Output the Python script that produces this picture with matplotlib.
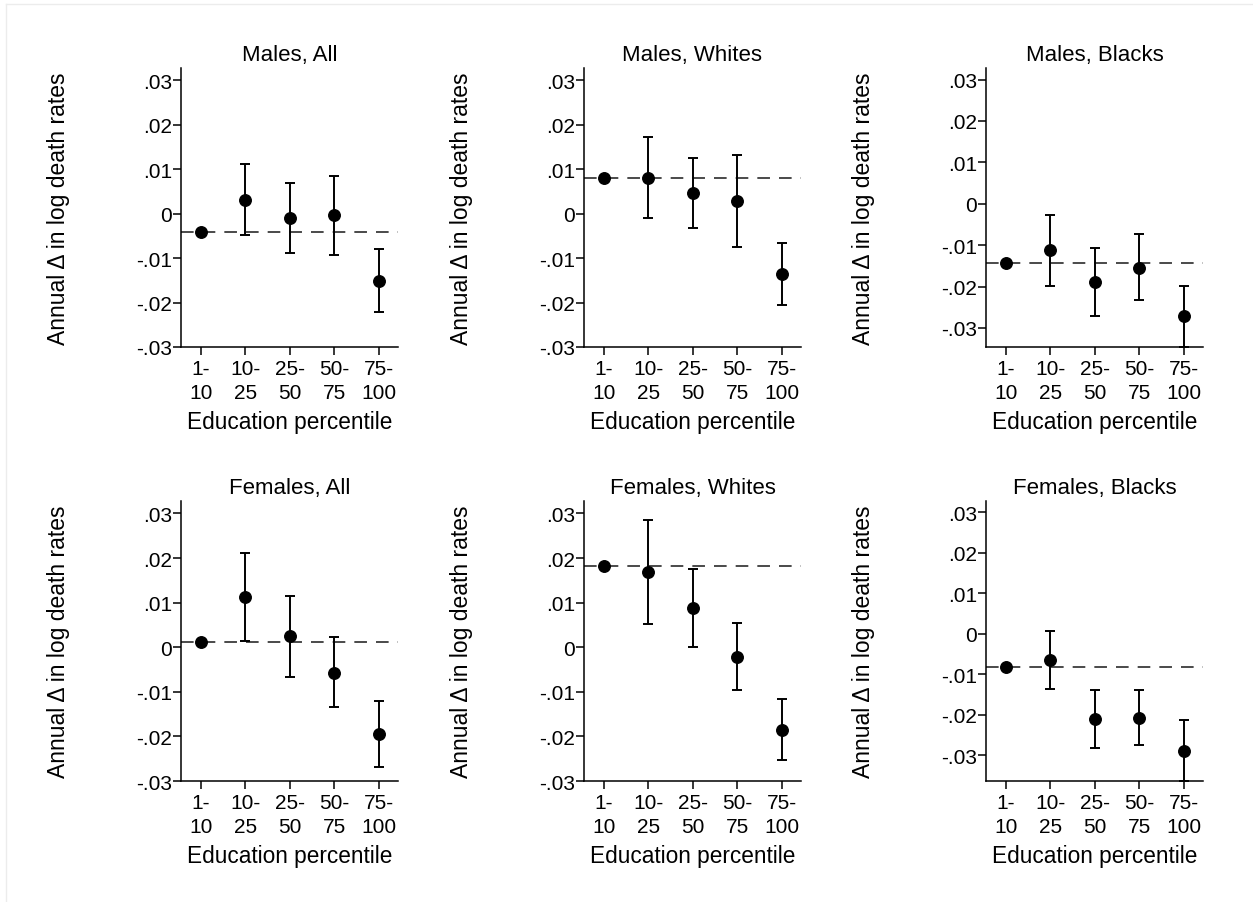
import matplotlib
matplotlib.use("Agg")
import matplotlib.pyplot as plt
from matplotlib.lines import Line2D
import numpy as np

plt.rcParams['font.family'] = ['Liberation Sans', 'DejaVu Sans']

# ---------- DATOS ----------
grupos = ["1-\n10", "10-\n25", "25-\n50", "50-\n75", "75-\n100"]
titulos = ["Males, All", "Males, Whites", "Males, Blacks",
           "Females, All", "Females, Whites", "Females, Blacks"]

# estimaciones puntuales por grupo de educacion
males_all = [-0.0042, 0.0031, -0.0010, -0.0004, -0.0151]
males_whites = [0.0081, 0.0081, 0.0046, 0.0028, -0.0135]
males_blacks = [-0.01425, -0.0112, -0.0189, -0.0154, -0.0271]
females_all = [0.0011, 0.0112, 0.0025, -0.0058, -0.0195]
females_whites = [0.01825, 0.0168, 0.0088, -0.0022, -0.0185]
females_blacks = [-0.0083, -0.0066, -0.0211, -0.0208, -0.0289]

# intervalos de confianza (inferior, superior); el grupo base no tiene
males_all_lo = [np.nan, -0.0049, -0.0088, -0.0094, -0.0221]
males_all_hi = [np.nan, 0.0112, 0.0069, 0.0086, -0.0080]
males_whites_lo = [np.nan, -0.0010, -0.0033, -0.0076, -0.0205]
males_whites_hi = [np.nan, 0.0172, 0.0126, 0.0132, -0.0066]
males_blacks_lo = [np.nan, -0.0198, -0.0271, -0.0233, -0.0346]
males_blacks_hi = [np.nan, -0.0027, -0.0106, -0.0074, -0.0198]
females_all_lo = [np.nan, 0.0013, -0.0066, -0.0135, -0.0269]
females_all_hi = [np.nan, 0.0212, 0.0115, 0.0022, -0.0121]
females_whites_lo = [np.nan, 0.0052, 0.0001, -0.0096, -0.0254]
females_whites_hi = [np.nan, 0.0286, 0.0176, 0.0054, -0.0117]
females_blacks_lo = [np.nan, -0.0137, -0.0282, -0.0276, -0.0364]
females_blacks_hi = [np.nan, 0.0006, -0.0140, -0.0138, -0.0214]

estimaciones = [males_all, males_whites, males_blacks,
                females_all, females_whites, females_blacks]
inferiores = [males_all_lo, males_whites_lo, males_blacks_lo,
              females_all_lo, females_whites_lo, females_blacks_lo]
superiores = [males_all_hi, males_whites_hi, males_blacks_hi,
              females_all_hi, females_whites_hi, females_blacks_hi]
y_ticks = [-0.03, -0.02, -0.01, 0, 0.01, 0.02, 0.03]
y_minimos = [-0.03, -0.03, -0.0346, -0.03, -0.03, -0.0364]


def etiqueta_stata(v):
    if v == 0:
        return "0"
    txt = f"{v:.2f}".replace("0.", ".")
    return txt


W, H = 1253, 903
fig = plt.figure(figsize=(W / 100, H / 100), dpi=100)

# marco gris claro alrededor de la figura
fig.add_artist(Line2D([6 / W, 1], [1 - 5 / H, 1 - 5 / H], color="#ececec", lw=1))
fig.add_artist(Line2D([6 / W, 6 / W], [0, 1 - 5 / H], color="#ececec", lw=1))

columnas = [(181, 398), (584, 801), (986, 1203)]
filas = [(69, 348), (502, 782)]

x = np.arange(1, len(grupos) + 1)

for i, titulo in enumerate(titulos):
    fila, col = divmod(i, 3)
    x0, x1 = columnas[col]
    y0, y1 = filas[fila]
    ax = fig.add_axes([x0 / W, 1 - y1 / H, (x1 - x0) / W, (y1 - y0) / H])

    est = np.array(estimaciones[i])
    lo = np.array(inferiores[i])
    hi = np.array(superiores[i])

    ax.axhline(est[0], color="#3c3c3c", lw=1.3, linestyle=(0, (7, 5)), zorder=1)
    ax.errorbar(x[1:], est[1:], yerr=[est[1:] - lo[1:], hi[1:] - est[1:]],
                fmt="none", ecolor="black", elinewidth=1.4, capsize=3.8,
                capthick=1.4, zorder=2, clip_on=True)
    ax.plot(x, est, "o", color="black", markersize=8.3, zorder=3)

    ax.set_xlim(0.56, 5.43)
    ax.set_ylim(y_minimos[i], 0.0328)
    ax.set_xticks(x)
    ax.set_xticklabels(grupos, linespacing=1.33)
    ax.set_yticks(y_ticks)
    ax.set_yticklabels([etiqueta_stata(v) for v in y_ticks])

    for lado in ["top", "right"]:
        ax.spines[lado].set_visible(False)
    for lado in ["left", "bottom"]:
        ax.spines[lado].set_linewidth(1.1)
    ax.tick_params(axis="both", length=5.5, width=1.1, labelsize=15)
    ax.tick_params(axis="y", pad=1)
    ax.tick_params(axis="x", pad=3)

    ax.set_title(titulo, fontsize=16, pad=6)
    ax.set_ylabel("Annual \u0394 in log death rates", fontsize=16.5)
    ax.set_xlabel("Education percentile", fontsize=16.3)
    ax.yaxis.set_label_coords(-0.565, 0.5)
    ax.yaxis.label.set_va("center")
    ax.xaxis.set_label_coords(0.5, -75 / (y1 - y0))
    ax.xaxis.label.set_va("center")

fig.savefig("out.png", dpi=100, facecolor="white")
